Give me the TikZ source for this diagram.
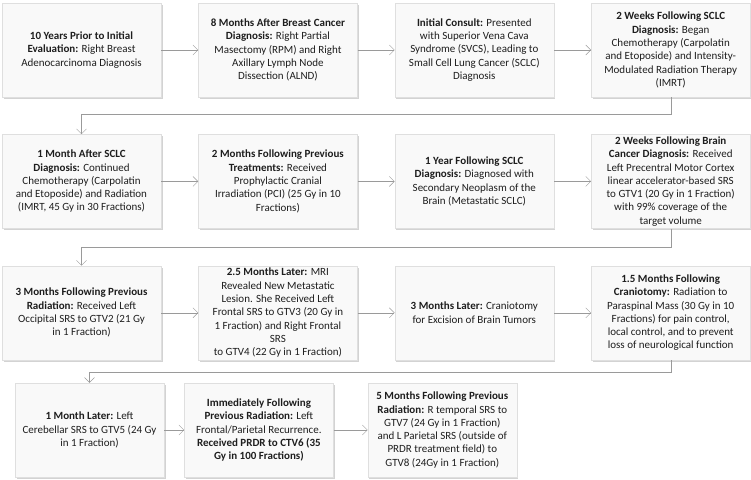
\documentclass[tikz,border=0pt]{standalone}
\usepackage{fontspec}
\setmainfont{Carlito}
\usepackage{xcolor}
\usepackage{tikz}
\usetikzlibrary{arrows.meta,positioning,shadows}
\definecolor{tlgray}{HTML}{9A9A9A}
\definecolor{tlfill}{HTML}{F9F9F9}
\definecolor{tltext}{HTML}{1E1E1E}

\begin{document}
\begin{tikzpicture}[
  x=1pt, y=-1pt,
  node distance=37pt and 37pt,
  event/.style={rectangle, draw=gray!25, fill=tlfill,
                drop shadow={opacity=0.35, shadow xshift=1.5pt, shadow yshift=-2pt},
                minimum width=159pt, minimum height=94pt, inner sep=1pt,
                align=center, text=tltext, font=\fontsize{11}{13.3}\selectfont},
  eventsm/.style={event, minimum width=149pt},
  flow/.style={-{Straight Barb[length=5pt,width=10pt]}, draw=tlgray, thin},
]
\useasboundingbox (0,0) rectangle (751,479);

% Row 1
\node[event] (prior) at (81.5,50) {\textbf{10 Years Prior to Initial}\\\textbf{Evaluation:} Right Breast\\Adenocarcinoma Diagnosis};
\node[event, right=of prior] (mastect) {\textbf{8 Months After Breast Cancer}\\\textbf{Diagnosis:} Right Partial\\Masectomy (RPM) and Right\\Axillary Lymph Node\\Dissection (ALND)};
\node[event, right=of mastect] (consult) {\textbf{Initial Consult:} Presented\\with Superior Vena Cava\\Syndrome (SVCS), Leading to\\Small Cell Lung Cancer (SCLC)\\Diagnosis};
\node[event, right=of consult] (chemo) {\textbf{2 Weeks Following SCLC}\\\textbf{Diagnosis:} Began\\Chemotherapy (Carpolatin\\and Etoposide) and Intensity-\\Modulated Radiation Therapy\\(IMRT)};

% Row 2
\node[event, below=of prior] (imrt) {\textbf{1 Month After SCLC}\\\textbf{Diagnosis:} Continued\\Chemotherapy (Carpolatin\\and Etoposide) and Radiation\\(IMRT, 45 Gy in 30 Fractions)};
\node[event, right=of imrt] (pci) {\textbf{2 Months Following Previous}\\\textbf{Treatments:} Received\\Prophylactic Cranial\\Irradiation (PCI) (25 Gy in 10\\Fractions)};
\node[event, right=of pci] (brainmet) {\textbf{1 Year Following SCLC}\\\textbf{Diagnosis:} Diagnosed with\\Secondary Neoplasm of the\\Brain (Metastatic SCLC)};
\node[event, right=of brainmet] (gtvone) {\textbf{2 Weeks Following Brain}\\\textbf{Cancer Diagnosis:} Received\\Left Precentral Motor Cortex\\linear accelerator-based SRS\\to GTV1 (20 Gy in 1 Fraction)\\with 99\% coverage of the\\target volume};

% Row 3
\node[event, below=of imrt] (gtvtwo) {\textbf{3 Months Following Previous}\\\textbf{Radiation:} Received Left\\Occipital SRS to GTV2 (21 Gy\\in 1 Fraction)};
\node[event, right=of gtvtwo] (gtvthree) {\textbf{2.5 Months Later:} MRI\\Revealed New Metastatic\\Lesion. She Received Left\\Frontal SRS to GTV3 (20 Gy in\\1 Fraction) and Right Frontal\\SRS\\to GTV4 (22 Gy in 1 Fraction)};
\node[event, right=of gtvthree] (crani) {\textbf{3 Months Later:} Craniotomy\\for Excision of Brain Tumors};
\node[event, right=of crani] (paraspin) {\textbf{1.5 Months Following}\\\textbf{Craniotomy:} Radiation to\\Paraspinal Mass (30 Gy in 10\\Fractions) for pain control,\\local control, and to prevent\\loss of neurological function};

% Row 4
\node[eventsm] (gtvfive) at (89.5,430) {\textbf{1 Month Later:} Left\\Cerebellar SRS to GTV5 (24 Gy\\in 1 Fraction)};
\node[eventsm, right=20pt of gtvfive] (prdr) {\textbf{Immediately Following}\\\textbf{Previous Radiation:} Left\\Frontal/Parietal Recurrence.\\\textbf{Received PRDR to CTV6 (35}\\\textbf{Gy in 100 Fractions)}};
\node[eventsm, right=34pt of prdr] (gtvseven) {\textbf{5 Months Following Previous}\\\textbf{Radiation:} R temporal SRS to\\GTV7 (24 Gy in 1 Fraction)\\and L Parietal SRS (outside of\\PRDR treatment field) to\\GTV8 (24Gy in 1 Fraction)};

% Arrows
\draw[flow] (prior) -- (mastect);
\draw[flow] (mastect) -- (consult);
\draw[flow] (consult) -- (chemo);
\draw[flow] (chemo.south) -- ++(0,17) -| (imrt.north);

\draw[flow] (imrt) -- (pci);
\draw[flow] (pci) -- (brainmet);
\draw[flow] (brainmet) -- (gtvone);
\draw[flow] (gtvone.south) -- ++(0,19) -| (gtvtwo.north);

\draw[flow] (gtvtwo) -- (gtvthree);
\draw[flow] (gtvthree) -- (crani);
\draw[flow] (crani) -- (paraspin);
\draw[flow] (paraspin.south) -- ++(0,12) -| (gtvfive.north);

\draw[flow] (gtvfive) -- (prdr);
\draw[flow] (prdr) -- (gtvseven);
\end{tikzpicture}
\end{document}
